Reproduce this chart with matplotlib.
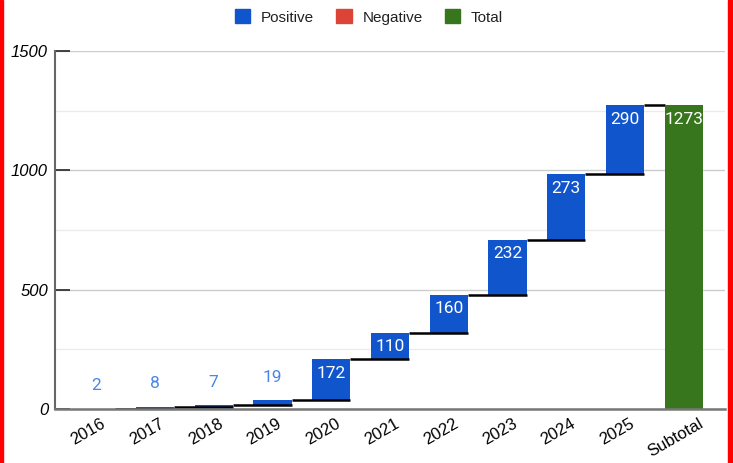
import matplotlib.pyplot as plt
import matplotlib.patches as mpatches
import matplotlib.transforms as mtransforms
import numpy as np

categories = ["2016", "2017", "2018", "2019", "2020", "2021", "2022", "2023", "2024", "2025", "Subtotal"]
changes = [2, 8, 7, 19, 172, 110, 160, 232, 273, 290]
total = 1273

blue = "#1155cc"
red = "#dc4437"
green = "#38761d"
light_blue = "#4a86e8"

plt.rcParams["font.family"] = ["Liberation Sans", "DejaVu Sans"]

fig = plt.figure(figsize=(7.33, 4.63), dpi=100)
ax = fig.add_axes([55 / 733, (463 - 409) / 463, 670 / 733, 358 / 463])

cum = np.cumsum(changes)
starts = np.concatenate([[0], cum[:-1]])
w = 0.65
x = np.arange(len(categories))

ax.bar(x[:-1], changes, bottom=starts, width=w, color=blue, zorder=3)
ax.bar(x[-1], total, width=w, color=green, zorder=3)

# connector lines
for i in range(1, len(changes)):
    ax.plot([i - 1 + w / 2, i + w / 2], [starts[i], starts[i]], color="black", lw=1.8,
            zorder=4, solid_capstyle="butt")
ax.plot([len(changes) - 1 + w / 2, len(changes) - w / 2], [total, total], color="black",
        lw=1.8, zorder=2, solid_capstyle="butt")

# value labels
for i, v in enumerate(changes):
    top = starts[i] + v
    if v < 50:
        ax.annotate(str(v), (i, top), xytext=(0, 16.5), textcoords="offset points",
                    ha="center", va="center", color=light_blue, fontsize=12.5,
                    family="Roboto", zorder=5)
    else:
        ax.annotate(str(v), (i, top), xytext=(0, -10), textcoords="offset points",
                    ha="center", va="center", color="white", fontsize=12.5,
                    family="Roboto", zorder=5)
ax.annotate(str(total), (x[-1], total), xytext=(0, -10), textcoords="offset points",
            ha="center", va="center", color="white", fontsize=12.5, family="Roboto",
            zorder=5)

ax.set_xlim(-0.7, 10.7)
ax.set_ylim(0, 1500)
ax.set_yticks([0, 500, 1000, 1500])
ax.set_yticks([250, 750, 1250], minor=True)
ax.grid(axis="y", which="major", color="#cccccc", lw=1, zorder=0)
ax.grid(axis="y", which="minor", color="#ebebeb", lw=1, zorder=0)
ax.tick_params(axis="y", which="major", direction="in", length=11, width=1.3,
               color="#333333", labelsize=12, pad=5)
ax.tick_params(axis="y", which="minor", length=0)
for t in ax.get_yticklabels():
    t.set_fontstyle("italic")

ax.set_xticks(x)
ax.set_xticklabels(categories, rotation=30, fontsize=12, ha="center", va="top")
ax.tick_params(axis="x", length=0, pad=5)
shift = mtransforms.ScaledTranslation(-8 / 100, 0, fig.dpi_scale_trans)
for t in ax.get_xticklabels():
    t.set_transform(t.get_transform() + shift)

for s in ["top", "right"]:
    ax.spines[s].set_visible(False)
ax.spines["left"].set_color("#666666")
ax.spines["left"].set_linewidth(1.5)
ax.spines["bottom"].set_color("#777777")
ax.spines["bottom"].set_linewidth(1.8)
ax.spines["bottom"].set_zorder(6)

handles = [mpatches.Patch(color=blue, label="Positive"),
           mpatches.Patch(color=red, label="Negative"),
           mpatches.Patch(color=green, label="Total")]
fig.legend(handles=handles, loc="center", bbox_to_anchor=(369 / 733, 1 - 17 / 463),
           ncol=3, frameon=False, fontsize=11, handlelength=1.0, handleheight=1.0,
           columnspacing=1.45, handletextpad=0.7, labelcolor="#222222")

# red frame at the sides
fig.patches.append(mpatches.Rectangle((0, 0), 3 / 733, 1, transform=fig.transFigure,
                                      color="red", zorder=10))
fig.patches.append(mpatches.Rectangle((728 / 733, 0), 5 / 733, 1, transform=fig.transFigure,
                                      color="red", zorder=10))

fig.savefig("out.png", dpi=100)
